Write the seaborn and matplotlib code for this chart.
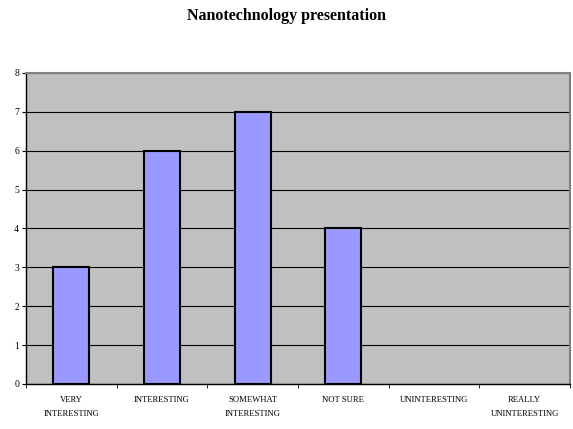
import matplotlib
matplotlib.use("Agg")
import matplotlib.pyplot as plt
import numpy as np
import pandas as pd
import seaborn as sns

categories = ["VERY\nINTERESTING", "INTERESTING", "SOMEWHAT\nINTERESTING",
              "NOT SURE", "UNINTERESTING", "REALLY\nUNINTERESTING"]
counts = [3, 6, 7, 4, 0, 0]
y_ticks = [0, 1, 2, 3, 4, 5, 6, 7, 8]

df = pd.DataFrame({"category": categories, "count": counts})

sns.set_style("white")
plt.rcParams['font.family'] = ['Liberation Serif', 'DejaVu Serif']
plt.rcParams['text.color'] = 'black'
plt.rcParams['xtick.color'] = 'black'
plt.rcParams['ytick.color'] = 'black'

fig = plt.figure(figsize=(5.73, 4.29), dpi=100)
ax = fig.add_axes([0.0454, 0.105, 0.9494, 0.725])
ax.set_facecolor("#C0C0C0")

sns.barplot(data=df, x="category", y="count", order=categories,
            color="#9999FF", edgecolor="black", linewidth=1.5,
            width=0.4, saturation=1, ax=ax)

# empty categories get no visible bar
for p in ax.patches:
    if p.get_height() == 0:
        p.set_visible(False)

ax.set_xlim(-0.5, len(categories) - 0.5)
ax.set_ylim(0, 8)
ax.set_yticks(y_ticks)
ax.yaxis.grid(True, color="black", linewidth=0.8)
ax.set_axisbelow(True)
ax.set_xlabel("")
ax.set_ylabel("")

ax.tick_params(axis="y", labelsize=7, length=3, direction="out", left=True, pad=2)
ax.tick_params(axis="x", which="major", labelsize=6.2, length=0, pad=9)
ax.set_xticks(np.arange(-0.5, len(categories), 1), minor=True)
ax.tick_params(axis="x", which="minor", length=3, direction="out", bottom=True)
for lbl in ax.get_xticklabels():
    lbl.set_linespacing(2.0)

for side in ["left", "bottom"]:
    ax.spines[side].set_color("black")
    ax.spines[side].set_linewidth(1)
for side in ["top", "right"]:
    ax.spines[side].set_color("#808080")
    ax.spines[side].set_linewidth(1.5)

fig.text(0.5, 0.962, "Nanotechnology presentation", ha="center", va="center",
         fontsize=11.5, fontweight="bold", color="black")

fig.savefig("out.png", dpi=100)
